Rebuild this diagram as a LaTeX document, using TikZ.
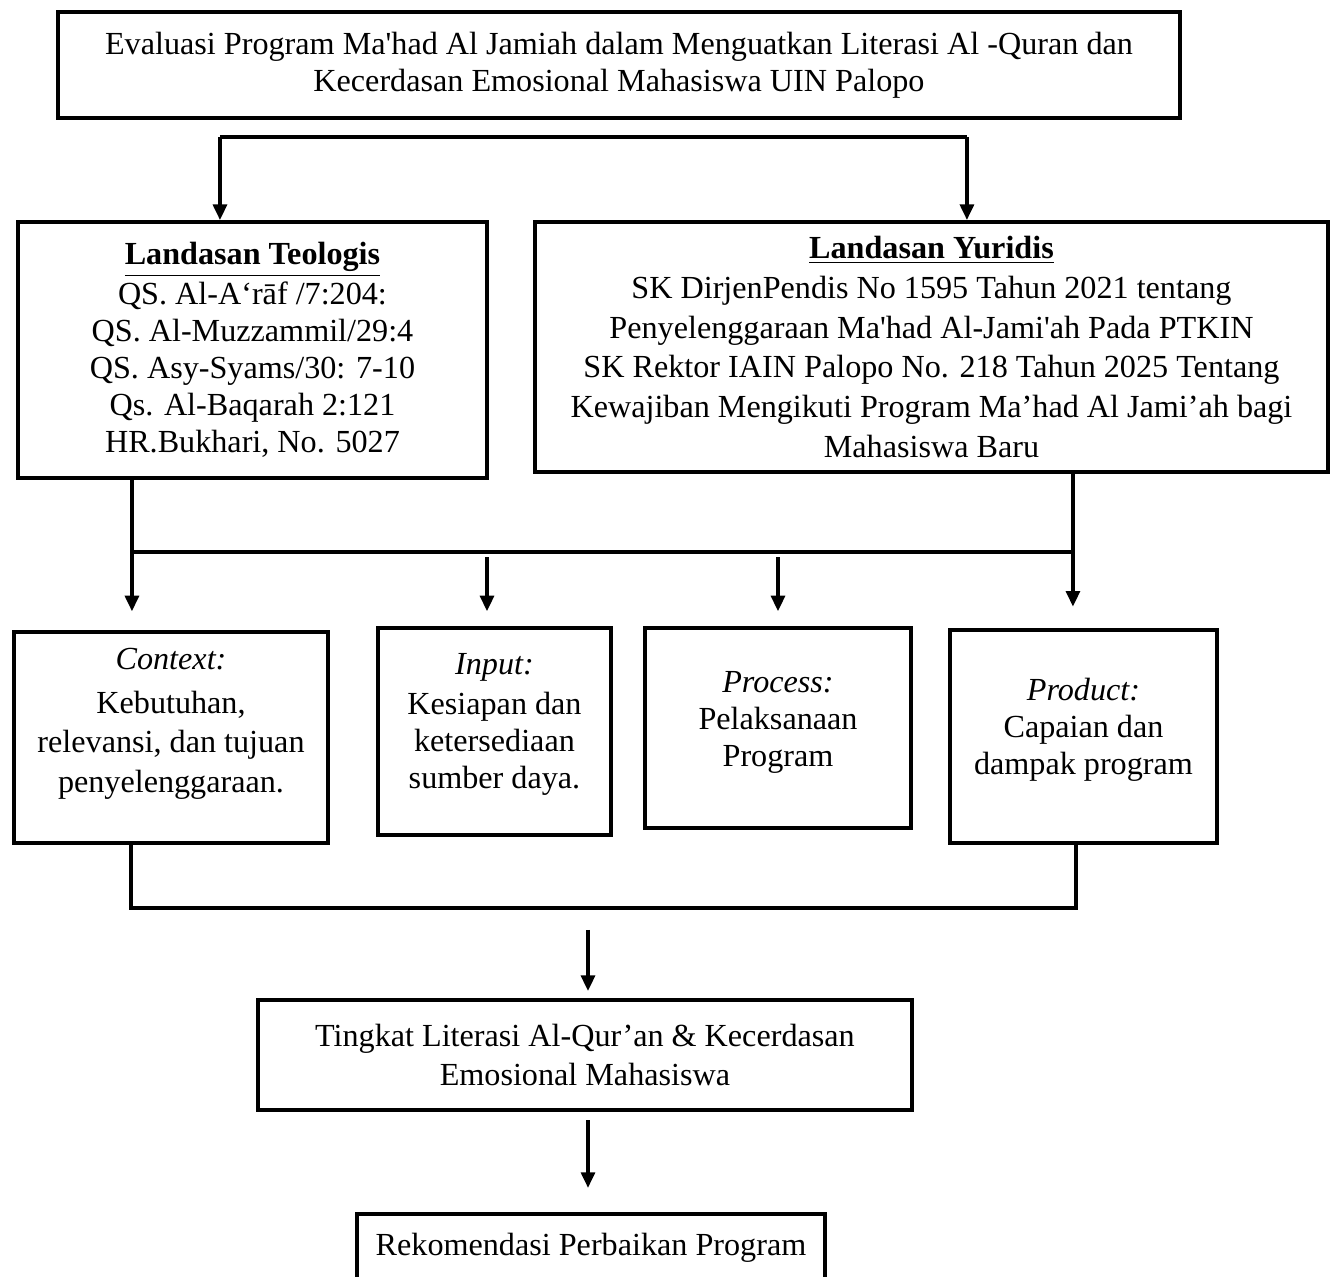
\documentclass[tikz,border=0pt]{standalone}
\usepackage{fontspec}
\setmainfont{Liberation Serif}[Ligatures=TeXOff]
\usetikzlibrary{arrows.meta, positioning}

\begin{document}
\begin{tikzpicture}[->, >={Triangle[length=5.8pt,width=5.2pt]}, line width=1.2pt, font=\fontsize{12}{13.8}\selectfont,
    main node/.style={rectangle, draw, line width=1.5pt, align=center, inner sep=2pt},
    wide lines/.style={font=\fontsize{12}{14.6}\selectfont}]
    \useasboundingbox (0,0) rectangle (17.45,-16.73);
    \node[main node, minimum width=14.71cm, minimum height=1.39cm] (E) at (8.115,-0.852) {Evaluasi Program Ma'had Al Jamiah dalam Menguatkan Literasi Al -Quran dan\\Kecerdasan Emosional Mahasiswa UIN Palopo};
    \node[main node, minimum width=6.149cm, minimum height=3.356cm] (teologis) at (3.310,-4.589) {\underline{\textbf{Landasan Teologis}}\\[1pt]QS. Al-A‘rāf /7:204:\\QS. Al-Muzzammil/29:4\\QS. Asy-Syams/30: 7-10\\Qs. Al-Baqarah 2:121\\HR.Bukhari, No. 5027};
    \node[main node, minimum width=10.396cm, minimum height=3.278cm, font=\fontsize{12}{14.8}\selectfont] (yuridis) at (12.212,-4.549) {\underline{\textbf{Landasan Yuridis}}\\SK DirjenPendis No 1595 Tahun 2021 tentang\\Penyelenggaraan Ma'had Al-Jami'ah Pada PTKIN\\SK Rektor IAIN Palopo No. 218 Tahun 2025 Tentang\\Kewajiban Mengikuti Program Ma’had Al Jami’ah bagi\\Mahasiswa Baru};
    % CIPP boxes, text sits a little above the middle
    \node[main node, wide lines, minimum width=4.117cm, minimum height=2.766cm, text depth=13pt] (context) at (2.242,-9.669) {\textit{Context:}\\[2pt]Kebutuhan,\\relevansi, dan tujuan\\penyelenggaraan.};
    \node[main node, minimum width=3.055cm, minimum height=2.714cm, text depth=7.8pt] (input) at (6.483,-9.590) {\textit{Input:}\\[1pt]Kesiapan dan\\ketersediaan\\sumber daya.};
    \node[main node, minimum width=3.487cm, minimum height=2.622cm, text depth=6.4pt] (process) at (10.200,-9.544) {\textit{Process:}\\Pelaksanaan\\Program};
    \node[main node, minimum width=3.500cm, minimum height=2.792cm, text depth=7.8pt] (product) at (14.205,-9.656) {\textit{Product:}\\Capaian dan\\dampak program};
    \node[main node, wide lines, minimum width=8.574cm, minimum height=1.442cm] (tingkat) at (7.669,-13.831) {Tingkat Literasi Al-Qur’an \& Kecerdasan\\Emosional Mahasiswa};
    \node[main node, minimum width=6.135cm, minimum height=0.9cm] (rekom) [below=1.311cm of tingkat.south, xshift=0.079cm, anchor=north] {Rekomendasi Perbaikan Program};

    \coordinate (splitL) at (2.884,-1.796);
    \coordinate (splitR) at (12.677,-1.796);
    \coordinate (jL) at (1.730,-7.237);
    \coordinate (jR) at (14.067,-7.237);
    \coordinate (inTop) at (6.385,-7.237);
    \coordinate (bL) at (1.717,-11.904);
    \coordinate (bR) at (14.106,-11.904);
    \coordinate (mid) at (7.709,-12.192);

    \draw[-] (splitL) -- (splitR);
    \draw (splitL) -- (splitL |- teologis.north);
    \draw (splitR) -- (splitR |- yuridis.north);
    \draw[-] (teologis.south -| jL) -- (jL) -- (jR) -- (yuridis.south -| jR); % join of both foundations
    \draw[shorten >=7pt] (jL) -- (jL |- context.north);
    \draw[shorten <=2pt, shorten >=5.5pt] (inTop) -- (inTop |- input.north);
    \draw[shorten <=2pt, shorten >=5.5pt] (process.north |- jL) -- (process.north);
    \draw[shorten >=8pt] (jR) -- (jR |- product.north);
    \draw[-] (context.south -| bL) -- (bL) -- (bR) -- (product.south -| bR);
    \draw[shorten >=2.6pt] (mid) -- (mid |- tingkat.north);
    \draw[shorten <=3pt, shorten >=9pt] (tingkat.south -| mid) -- (rekom.north -| mid);
\end{tikzpicture}
\end{document}
